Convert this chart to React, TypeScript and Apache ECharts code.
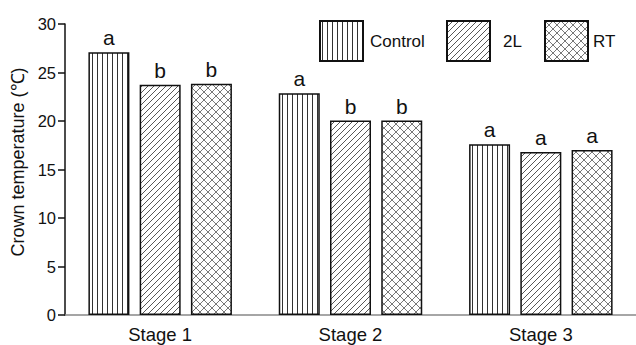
import React, { useEffect, useRef } from "react";
import * as echarts from "echarts";

const categories = ["Stage 1", "Stage 2", "Stage 3"];
const seriesNames = ["Control", "2L", "RT"];
const controlValues = [27.1, 22.85, 17.6];
const twoLValues = [23.75, 20.05, 16.8];
const rtValues = [23.85, 20.05, 17.0];
const controlLetters = ["a", "a", "a"];
const twoLLetters = ["b", "b", "a"];
const rtLetters = ["b", "b", "a"];
const yTicks = { min: 0, max: 30, interval: 5 };

const FONT = "'Liberation Sans', Arial, sans-serif";

function svgUrl(svg: string) {
  return "data:image/svg+xml;base64," + btoa(svg);
}

const vertPattern = {
  image: svgUrl(
    '<svg xmlns="http://www.w3.org/2000/svg" width="5" height="5"><rect width="5" height="5" fill="#fff"/><line x1="2.5" y1="0" x2="2.5" y2="5" stroke="#333" stroke-width="1"/></svg>'
  ),
  repeat: "repeat",
  imageWidth: 5,
  imageHeight: 5,
};
const diagPattern = {
  image: svgUrl(
    '<svg xmlns="http://www.w3.org/2000/svg" width="6" height="6"><rect width="6" height="6" fill="#fff"/><line x1="-1" y1="7" x2="7" y2="-1" stroke="#444" stroke-width="0.9"/></svg>'
  ),
  repeat: "repeat",
  imageWidth: 6,
  imageHeight: 6,
};
const crossPattern = {
  image: svgUrl(
    '<svg xmlns="http://www.w3.org/2000/svg" width="8" height="8"><rect width="8" height="8" fill="#fff"/><line x1="-1" y1="9" x2="9" y2="-1" stroke="#555" stroke-width="0.8"/><line x1="-1" y1="-1" x2="9" y2="9" stroke="#555" stroke-width="0.8"/></svg>'
  ),
  repeat: "repeat",
  imageWidth: 8,
  imageHeight: 8,
};

function makeSeries(name: string, values: number[], letters: string[], pattern: any) {
  return {
    name,
    type: "bar",
    data: values,
    barWidth: 41,
    barGap: "25%",
    itemStyle: { color: pattern, borderColor: "#111", borderWidth: 1.5 },
    label: {
      show: true,
      position: "top",
      distance: 4,
      formatter: (p: any) => letters[p.dataIndex],
      fontSize: 21,
      color: "#111",
      fontFamily: FONT,
    },
  };
}

export default function App() {
  const ref = useRef<HTMLDivElement>(null);
  useEffect(() => {
    if (!ref.current) return;
    const chart = echarts.init(ref.current, undefined, { renderer: "svg" });
    const legendCommon = {
      top: 20,
      padding: 0,
      itemWidth: 43,
      itemHeight: 40,
      icon: "rect",
      selectedMode: false,
      textStyle: { fontSize: 17, color: "#111", fontFamily: FONT },
    };
    chart.setOption({
      animation: false,
      textStyle: { fontFamily: FONT },
      legend: [
        {
          ...legendCommon,
          left: 319,
          data: [seriesNames[0]],
          textStyle: { ...legendCommon.textStyle, padding: [0, 0, 0, 2] },
        },
        {
          ...legendCommon,
          left: 446,
          data: [seriesNames[1]],
          textStyle: { ...legendCommon.textStyle, padding: [0, 0, 0, 8] },
        },
        { ...legendCommon, left: 544, data: [seriesNames[2]] },
      ],
      grid: { left: 65, top: 24, width: 580, bottom: 30 },
      xAxis: {
        type: "category",
        data: categories,
        axisLine: { lineStyle: { color: "#888", width: 1.5 } },
        axisTick: { show: false },
        axisLabel: { fontSize: 18.5, color: "#111", margin: 10, fontFamily: FONT },
      },
      yAxis: {
        type: "value",
        min: yTicks.min,
        max: yTicks.max,
        interval: yTicks.interval,
        name: "Crown temperature (\u2103)",
        nameLocation: "middle",
        nameGap: 32,
        nameTextStyle: {
          fontSize: 18,
          color: "#111",
          fontFamily: FONT,
          padding: [0, 0, 0, 15],
        },
        axisLine: { show: true, lineStyle: { color: "#111", width: 1.5 } },
        axisTick: { show: true, length: 7, lineStyle: { color: "#111", width: 1.5 } },
        axisLabel: { fontSize: 16.5, color: "#111", margin: 9, fontFamily: FONT },
        splitLine: { show: false },
      },
      series: [
        makeSeries(seriesNames[0], controlValues, controlLetters, vertPattern),
        makeSeries(seriesNames[1], twoLValues, twoLLetters, diagPattern),
        makeSeries(seriesNames[2], rtValues, rtLetters, crossPattern),
      ],
    });
    return () => chart.dispose();
  }, []);
  return (
    <div
      ref={ref}
      style={{ position: "fixed", left: 0, top: 0, width: 636, height: 345, background: "#fff" }}
    />
  );
}
